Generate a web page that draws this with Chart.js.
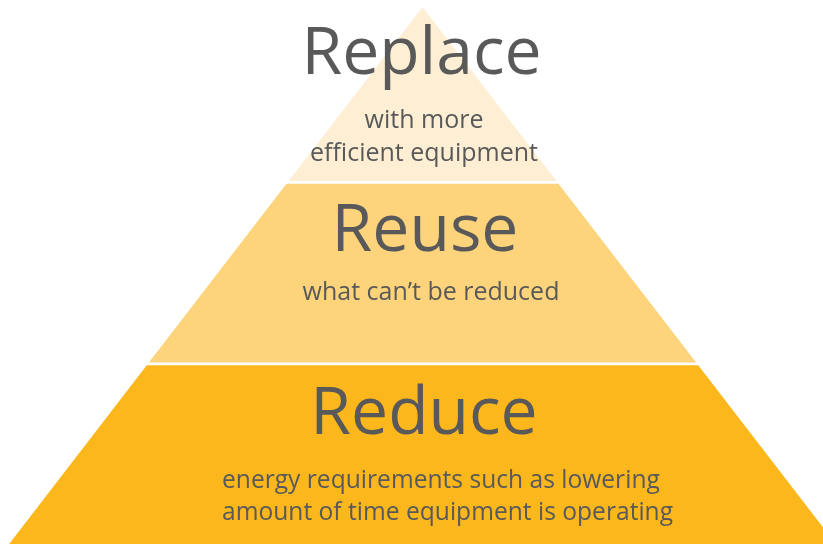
<!DOCTYPE html>
<html>
<head>
<meta charset="utf-8">
<script src="https://cdn.jsdelivr.net/npm/chart.js@4/dist/chart.umd.min.js"></script>
<style>
  html, body { margin: 0; padding: 0; background: #ffffff; }
  #wrap { width: 823px; height: 544px; }
</style>
</head>
<body>
<div id="wrap"><canvas id="c" width="823" height="544"></canvas></div>
<script>
// ---- data ----
const tierNames = ['Replace', 'Reuse', 'Reduce'];
const tierNotes = [
  ['with more', 'efficient equipment'],
  ['what can\u2019t be reduced'],
  ['energy requirements such as lowering', 'amount of time equipment is operating']
];
// tier extents, measured from the apex (0) to the base (100)
const tierStart = [0, 32.9, 66.7];
const tierEnd   = [32.4, 66.2, 100];
// half-width of the pyramid per unit of depth
const pyramidSlope = 0.77;

// ---- styles ----
const tierColors = ['#FEEFD4', '#FDD47B', '#FCB71D'];
const textColor = '#595959';

function trapezoid(i) {
  const t = tierStart[i], b = tierEnd[i];
  const wt = t * pyramidSlope, wb = b * pyramidSlope;
  const pts = [{x: -wb, y: b}];
  if (wt === 0) pts.push({x: 0, y: t});
  else { pts.push({x: -wt, y: t}); pts.push({x: wt, y: t}); }
  pts.push({x: wb, y: b});
  return pts;
}

const datasets = tierNames.map((name, i) => ({
  label: name,
  data: trapezoid(i),
  showLine: true,
  borderWidth: 0,
  pointRadius: 0,
  backgroundColor: tierColors[i],
  borderColor: tierColors[i],
  fill: {value: tierEnd[i]},
  tension: 0
}));

// text layout in pixels
const textLayout = [
  {titleX: 421.5, titleY: 74, notesX: 424, notesY: [128, 161], align: 'center', noteSize: 25},
  {titleX: 425,   titleY: 251, notesX: 431, notesY: [300], align: 'center', noteSize: 25},
  {titleX: 424,   titleY: 434, notesX: 222, notesY: [488, 520], align: 'left', noteSize: 24.6}
];

const labelPlugin = {
  id: 'tierLabels',
  afterDatasetsDraw(chart) {
    const ctx = chart.ctx;
    ctx.save();
    ctx.fillStyle = textColor;
    ctx.textBaseline = 'alphabetic';
    tierNames.forEach((name, i) => {
      const lay = textLayout[i];
      ctx.textAlign = 'center';
      ctx.font = '66px "Open Sans"';
      ctx.fillText(name, lay.titleX, lay.titleY);
      ctx.textAlign = lay.align;
      ctx.font = lay.noteSize + 'px "Open Sans"';
      tierNotes[i].forEach((line, j) => ctx.fillText(line, lay.notesX, lay.notesY[j]));
    });
    ctx.restore();
  }
};

new Chart(document.getElementById('c'), {
  type: 'scatter',
  data: { datasets },
  options: {
    responsive: false,
    animation: false,
    devicePixelRatio: 1,
    layout: { padding: 0 },
    plugins: { legend: { display: false }, tooltip: { enabled: false }, title: { display: false } },
    scales: {
      x: { type: 'linear', display: false, min: -78.7, max: 74.6 },
      y: { type: 'linear', display: false, reverse: true, min: -1.3, max: 100 }
    }
  },
  plugins: [labelPlugin]
});
</script>
</body>
</html>
